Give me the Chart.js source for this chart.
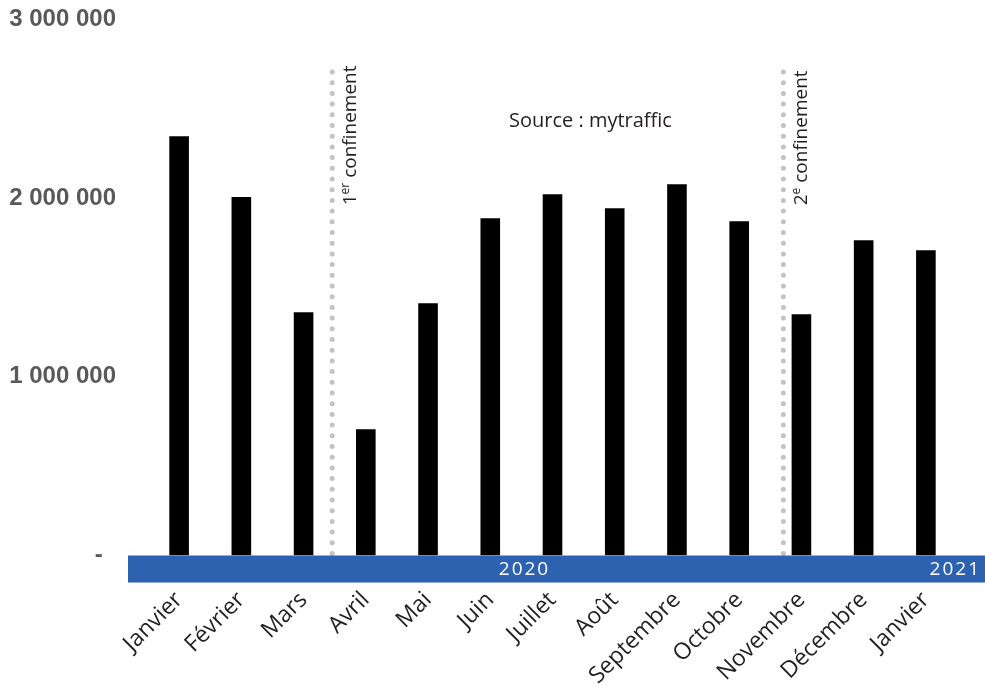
<!DOCTYPE html>
<html>
<head>
<meta charset="utf-8">
<script src="https://cdn.jsdelivr.net/npm/chart.js@4"></script>
<style>
    html, body { margin: 0; padding: 0; background: #fff; overflow: hidden; }
    #wrap { width: 985px; height: 693px; }
</style>
</head>
<body>
<div id="wrap"><canvas id="traffic"></canvas></div>
<script>
const months = ['Janvier', 'Février', 'Mars', 'Avril', 'Mai', 'Juin', 'Juillet', 'Août',
    'Septembre', 'Octobre', 'Novembre', 'Décembre', 'Janvier'];
const visitors = [2347000, 2006000, 1361000, 706000, 1412000, 1888000, 2022000,
    1944000, 2078000, 1871000, 1350000, 1765000, 1709000];
const yTicks = [0, 1000000, 2000000, 3000000];
const yTickLabels = ['-  ', '1 000 000', '2 000 000', '3 000 000'];
const years = ['2020', '2021'];
const lockdownAt = [2.46, 9.71];
const lockdownNum = ['1', '2'];
const lockdownSup = ['er', 'e'];
const sourceText = 'Source : mytraffic';

// dotted separators + rotated notes
const lockdownPlugin = {
    id: 'lockdowns',
    beforeDatasetsDraw(chart) {
        const { ctx, scales: { x, y } } = chart;
        ctx.save();
        lockdownAt.forEach((pos, i) => {
            const px = x.getPixelForValue(pos);
            ctx.strokeStyle = '#c4c2c3';
            ctx.lineWidth = 5;
            ctx.lineCap = 'round';
            ctx.setLineDash([0, 10.7]);
            ctx.beginPath();
            ctx.moveTo(px, y.getPixelForValue(0) - 2);
            ctx.lineTo(px, y.getPixelForValue(2760000));
            ctx.stroke();

            ctx.setLineDash([]);
            ctx.save();
            ctx.translate(px + 18, y.getPixelForValue(1960000));
            ctx.rotate(-Math.PI / 2);
            ctx.fillStyle = '#231f20';
            ctx.textBaseline = 'middle';
            ctx.textAlign = 'left';
            ctx.font = '19px "Open Sans"';
            ctx.fillText(lockdownNum[i], 0, 0);
            let w = ctx.measureText(lockdownNum[i]).width;
            ctx.font = '12px "Open Sans"';
            ctx.fillText(lockdownSup[i], w, -5);
            w += ctx.measureText(lockdownSup[i]).width;
            ctx.font = '19px "Open Sans"';
            ctx.fillText(' confinement', w, 0);
            ctx.restore();
        });

        ctx.fillStyle = '#231f20';
        ctx.font = '20px "Open Sans"';
        ctx.textAlign = 'center';
        ctx.textBaseline = 'middle';
        ctx.fillText(sourceText, x.getPixelForValue(6.61), y.getPixelForValue(2430000));
        ctx.restore();
    },
    afterDatasetsDraw(chart) {
        const { ctx, chartArea, scales: { x } } = chart;
        ctx.save();
        ctx.fillStyle = '#2d62b0';
        ctx.fillRect(128, chartArea.bottom, 2000, 27);
        ctx.fillStyle = '#ffffff';
        ctx.font = '19px "Open Sans"';
        ctx.letterSpacing = '2px';
        ctx.textBaseline = 'middle';
        ctx.textAlign = 'center';
        ctx.fillText(years[0], x.getPixelForValue(5.55), chartArea.bottom + 14);
        ctx.textAlign = 'right';
        ctx.fillText(years[1], chart.width - 4, chartArea.bottom + 14);
        ctx.restore();
    }
};

new Chart(document.getElementById('traffic'), {
    type: 'bar',
    data: {
        labels: months,
        datasets: [{
            data: visitors,
            backgroundColor: '#000000',
            barPercentage: 0.63,
            categoryPercentage: 0.5
        }]
    },
    options: {
        responsive: true,
        maintainAspectRatio: false,
        animation: false,
        layout: { padding: { left: 10, right: 28, top: 19.5, bottom: 0 } },
        plugins: {
            legend: { display: false },
            tooltip: { enabled: false }
        },
        scales: {
            x: {
                grid: { display: false, drawTicks: false },
                border: { display: false },
                ticks: {
                    maxRotation: 45,
                    minRotation: 45,
                    padding: 31,
                    color: '#231f20',
                    font: { family: 'Open Sans', size: 23 }
                },
                afterFit(scale) {
                    scale.height = 137.5;
                    scale.paddingTop = 0;
                    scale.paddingBottom = 0;
                    scale.paddingLeft = 0;
                    scale.paddingRight = 0;
                }
            },
            y: {
                min: 0,
                max: 3000000,
                grid: { display: false, drawTicks: false },
                border: { display: false },
                afterBuildTicks(scale) {
                    scale.ticks = yTicks.map(v => ({ value: v }));
                },
                ticks: {
                    padding: 32,
                    color: '#595959',
                    font: { family: 'Liberation Sans', size: 24, weight: 'bold' },
                    callback: value => yTickLabels[yTicks.indexOf(value)]
                },
                afterFit(scale) {
                    scale.width = 138;
                    scale.paddingTop = 0;
                    scale.paddingBottom = 0;
                }
            }
        }
    },
    plugins: [lockdownPlugin]
});
</script>
</body>
</html>
